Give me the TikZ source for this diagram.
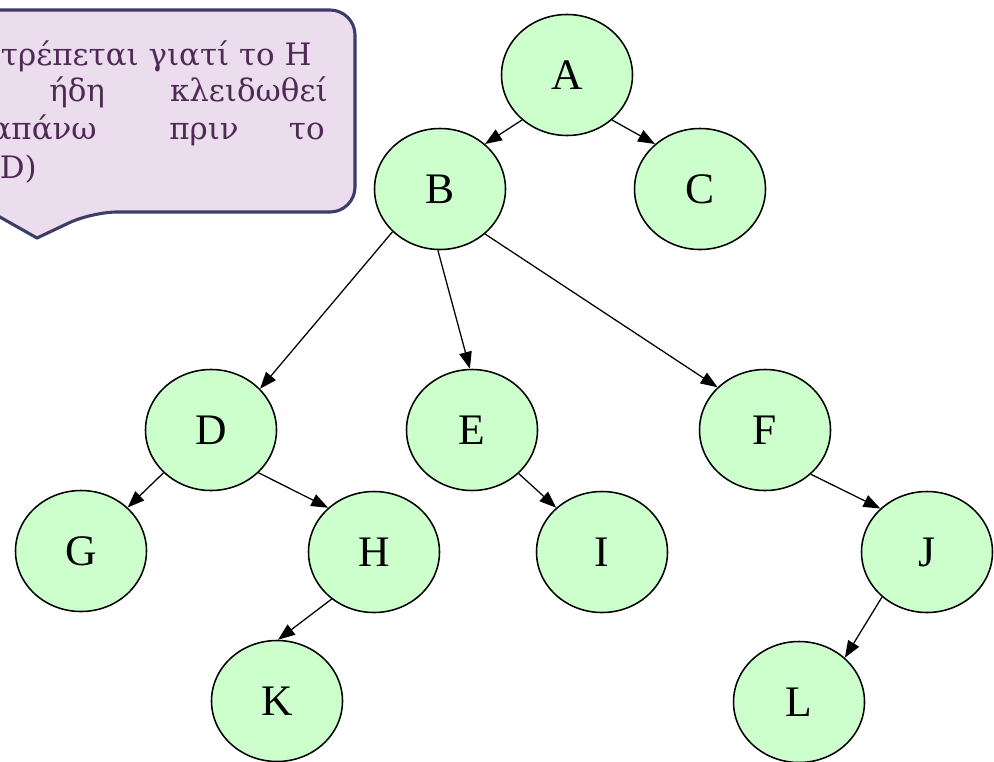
\documentclass[tikz,border=0pt]{standalone}
\usepackage{fontspec}
\setmainfont{Liberation Serif}
\newfontfamily\blasenfont{DejaVu Serif}
\usetikzlibrary{shapes.geometric,arrows.meta}
\definecolor{knotengruen}{HTML}{CCFFCC}
\definecolor{blasenfill}{HTML}{EBDCEE}
\definecolor{blasenrand}{HTML}{3C3C68}
\definecolor{blasentext}{HTML}{4F2A55}
\begin{document}
\begin{tikzpicture}[x=0.25mm, y=-0.25mm,
	knoten/.style={ellipse, draw, line width=1.1pt, fill=knotengruen, minimum width=32.75mm, minimum height=30.25mm, inner sep=0pt, font=\fontsize{31}{36}\selectfont},
	kante/.style={-{Triangle[length=12pt,width=9pt]}, line width=0.9pt},
	wort/.style={inner sep=0pt, text=blasentext, font=\blasenfont\fontsize{22}{26}\selectfont}]
	\useasboundingbox (0,0) rectangle (994,761);
	\clip (0,0) rectangle (994,761);
	% Sprechblase
	\draw[line width=2.2pt, draw=blasenrand, fill=blasenfill] (-30,10) [rounded corners=6.25mm] -- (355,10) -- (355,212) -- (92,212) [sharp corners] -- (37,238) -- (-9,212) -- (-30,212) -- cycle;
	\node[wort, anchor=base east] (z1) at (312,65) {τρέπεται γιατί το H};
	\node[wort, anchor=base west] (z2a) at (49,101) {ήδη};
	\node[wort, anchor=base east] (z2b) at (328,101) {κλειδωθεί};
	\node[wort, anchor=base east] (z3a) at (97,139) {απάνω};
	\node[wort, anchor=base] (z3b) at (204,139) {πριν};
	\node[wort, anchor=base east] (z3c) at (325,139) {το};
	\node[wort, anchor=base east] (z4) at (37,178) {D)};
	% Knoten
	\node[knoten] (A) at (567,75) {A};
	\node[knoten] (B) at (440,189) {B};
	\node[knoten] (C) at (700,189) {C};
	\node[knoten] (D) at (211,430) {D};
	\node[knoten] (E) at (472,430) {E};
	\node[knoten] (F) at (765,430) {F};
	\node[knoten] (G) at (81,551) {G};
	\node[knoten] (H) at (374,552) {H};
	\node[knoten] (I) at (602,552) {I};
	\node[knoten] (J) at (927,552) {J};
	\node[knoten] (K) at (277,701) {K};
	\node[knoten] (L) at (799,702) {L};
	% Kanten
	\draw[kante] (A.225) -- (B.45);
	\draw[kante] (A.315) -- (C.135);
	\draw[kante] (B.222) -- (D.40);
	\draw[kante] (B.268) -- (E.92);
	\draw[kante] (B.315) -- (F.138);
	\draw[kante] (D.222) -- (G.43);
	\draw[kante] (D.318) -- (H.136);
	\draw[kante] (E.317) -- (I.136);
	\draw[kante] (F.316) -- (J.137);
	\draw[kante] (H.228) -- (K.89);
	\draw[kante] (J.225) -- (L.44);
\end{tikzpicture}
\end{document}
